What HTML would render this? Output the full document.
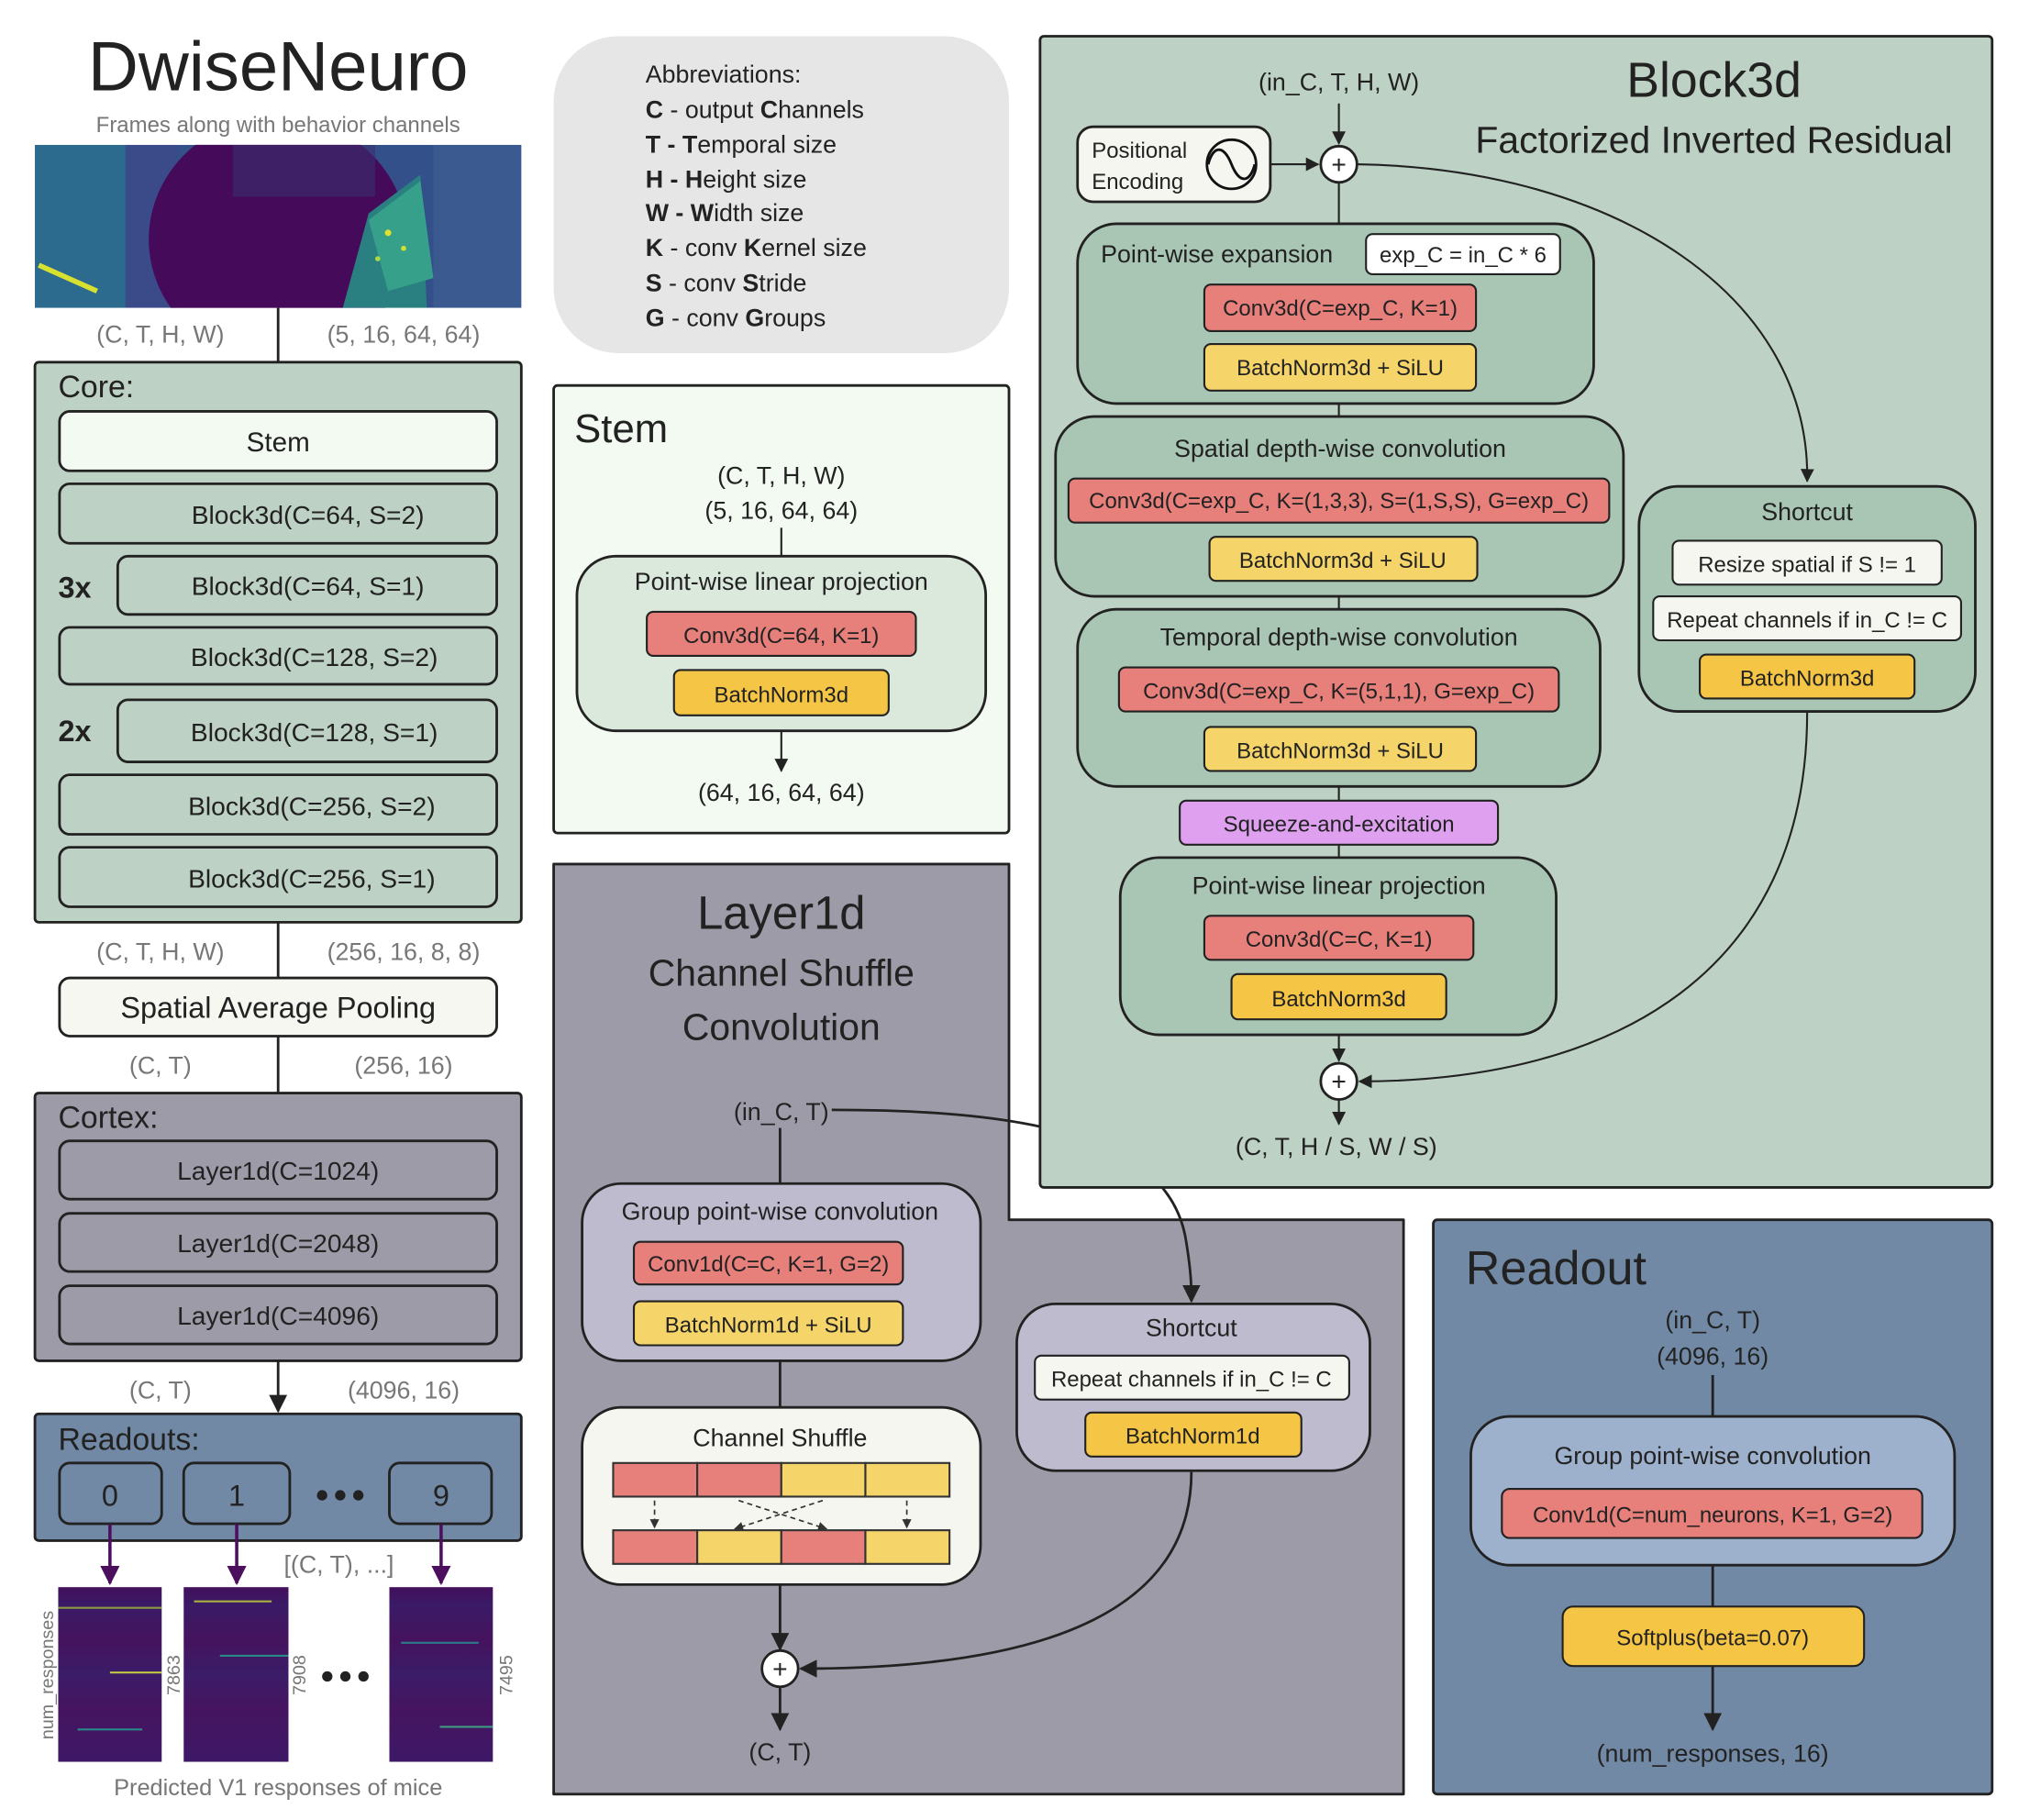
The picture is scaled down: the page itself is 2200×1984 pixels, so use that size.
<!DOCTYPE html>
<html><head><meta charset="utf-8"><style>
html,body{margin:0;padding:0;background:#fff;}
svg{display:block;}
text{font-family:"Liberation Sans",sans-serif;fill:#222;}
.c{text-anchor:middle;}
.g{fill:#777;}
</style></head><body>
<svg width="2200" height="1984" viewBox="0 0 1560 1407" preserveAspectRatio="none" xmlns="http://www.w3.org/2000/svg">
<defs>
<marker id="ar" viewBox="0 0 10 10" refX="9" refY="5" markerWidth="7" markerHeight="7" orient="auto-start-reverse"><path d="M0,0 L10,5 L0,10 z" fill="#222"/></marker>
<marker id="arp" viewBox="0 0 10 10" refX="9" refY="5" markerWidth="6" markerHeight="6" orient="auto"><path d="M0,0 L10,5 L0,10 z" fill="#4b0f5e"/></marker>
<marker id="ars" viewBox="0 0 10 10" refX="9" refY="5" markerWidth="6" markerHeight="6" orient="auto"><path d="M0,0 L10,5 L0,10 z" fill="#333"/></marker>
<linearGradient id="hm" x1="0" y1="0" x2="0" y2="1">
<stop offset="0" stop-color="#440f5c"/><stop offset="0.1" stop-color="#3a1a66"/><stop offset="0.3" stop-color="#45135e"/><stop offset="0.5" stop-color="#3b1c68"/><stop offset="0.7" stop-color="#461460"/><stop offset="1" stop-color="#3d1866"/></linearGradient>
<clipPath id="imc"><rect x="27" y="112" width="376" height="126"/></clipPath>
</defs>

<!-- Left column -->
<text x="215" y="70" class="c" font-size="54">DwiseNeuro</text>
<text x="215" y="102" class="c g" font-size="17">Frames along with behavior channels</text>
<g clip-path="url(#imc)">
<rect x="27" y="112" width="376" height="126" fill="#33508a"/>
<rect x="27" y="112" width="70" height="126" fill="#2c6b8e"/>
<rect x="97" y="112" width="40" height="126" fill="#3b4a88"/>
<ellipse cx="215" cy="185" rx="100" ry="95" fill="#450b5a"/>
<rect x="180" y="112" width="110" height="40" fill="#3a2f70" opacity="0.6"/>
<polygon points="265,238 285,165 325,135 330,238" fill="#2a8080"/>
<polygon points="285,170 325,140 335,215 300,225" fill="#37a08a"/>
<rect x="335" y="112" width="68" height="126" fill="#3a5a90"/>
<line x1="30" y1="205" x2="75" y2="225" stroke="#d8e030" stroke-width="4"/>
<circle cx="300" cy="180" r="2.5" fill="#e0e030"/>
<circle cx="312" cy="192" r="2" fill="#d0e030"/>
<circle cx="292" cy="200" r="2" fill="#b0d840"/>
</g>
<line x1="215" y1="238" x2="215" y2="280" stroke="#222" stroke-width="2"/>
<text x="124" y="265" class="c g" font-size="19">(C, T, H, W)</text>
<text x="312" y="265" class="c g" font-size="19">(5, 16, 64, 64)</text>

<rect x="27" y="280" width="376" height="433" rx="3" fill="#bdd1c4" stroke="#222" stroke-width="2"/>
<text x="45" y="307" font-size="24">Core:</text>
<rect x="46" y="318" width="338" height="46" rx="8" fill="#f3faf1" stroke="#222" stroke-width="2"/>
<text x="215" y="349" class="c" font-size="21">Stem</text>
<g fill="#bdd1c4" stroke="#222" stroke-width="2">
<rect x="46" y="374" width="338" height="46" rx="8"/>
<rect x="91" y="430" width="293" height="45" rx="8"/>
<rect x="46" y="485" width="338" height="44" rx="8"/>
<rect x="91" y="541" width="293" height="48" rx="8"/>
<rect x="46" y="599" width="338" height="46" rx="8"/>
<rect x="46" y="655" width="338" height="46" rx="8"/>
</g>
<g font-size="20">
<text x="238" y="405" class="c">Block3d(C=64, S=2)</text>
<text x="238" y="460" class="c">Block3d(C=64, S=1)</text>
<text x="243" y="515" class="c">Block3d(C=128, S=2)</text>
<text x="243" y="573" class="c">Block3d(C=128, S=1)</text>
<text x="241" y="630" class="c">Block3d(C=256, S=2)</text>
<text x="241" y="686" class="c">Block3d(C=256, S=1)</text>
</g>
<text x="45" y="462" font-size="23" font-weight="bold">3x</text>
<text x="45" y="573" font-size="23" font-weight="bold">2x</text>

<line x1="215" y1="713" x2="215" y2="756" stroke="#222" stroke-width="2"/>
<text x="124" y="742" class="c g" font-size="19">(C, T, H, W)</text>
<text x="312" y="742" class="c g" font-size="19">(256, 16, 8, 8)</text>
<rect x="46" y="756" width="338" height="45" rx="8" fill="#f5f7f0" stroke="#222" stroke-width="2"/>
<text x="215" y="787" class="c" font-size="23">Spatial Average Pooling</text>
<line x1="215" y1="801" x2="215" y2="845" stroke="#222" stroke-width="2"/>
<text x="124" y="830" class="c g" font-size="19">(C, T)</text>
<text x="312" y="830" class="c g" font-size="19">(256, 16)</text>

<rect x="27" y="845" width="376" height="207" rx="3" fill="#9e9ba8" stroke="#222" stroke-width="2"/>
<text x="45" y="872" font-size="24">Cortex:</text>
<g fill="#9e9ba8" stroke="#222" stroke-width="2">
<rect x="46" y="882" width="338" height="45" rx="8"/>
<rect x="46" y="938" width="338" height="45" rx="8"/>
<rect x="46" y="994" width="338" height="45" rx="8"/>
</g>
<g font-size="20">
<text x="215" y="912" class="c">Layer1d(C=1024)</text>
<text x="215" y="968" class="c">Layer1d(C=2048)</text>
<text x="215" y="1024" class="c">Layer1d(C=4096)</text>
</g>
<line x1="215" y1="1052" x2="215" y2="1091" stroke="#222" stroke-width="2" marker-end="url(#ar)"/>
<text x="124" y="1081" class="c g" font-size="19">(C, T)</text>
<text x="312" y="1081" class="c g" font-size="19">(4096, 16)</text>

<rect x="27" y="1093" width="376" height="98" rx="3" fill="#7189a5" stroke="#222" stroke-width="2"/>
<text x="45" y="1121" font-size="24">Readouts:</text>
<g fill="#7189a5" stroke="#222" stroke-width="2">
<rect x="46" y="1131" width="79" height="47" rx="8"/>
<rect x="142" y="1131" width="82" height="47" rx="8"/>
<rect x="301" y="1131" width="79" height="47" rx="8"/>
</g>
<text x="85" y="1164" class="c" font-size="23">0</text>
<text x="183" y="1164" class="c" font-size="23">1</text>
<text x="341" y="1164" class="c" font-size="23">9</text>
<g fill="#222"><circle cx="249" cy="1156" r="4"/><circle cx="263" cy="1156" r="4"/><circle cx="277" cy="1156" r="4"/></g>
<g stroke="#4b0f5e" stroke-width="2.5">
<line x1="85" y1="1178" x2="85" y2="1224" marker-end="url(#arp)"/>
<line x1="183" y1="1178" x2="183" y2="1224" marker-end="url(#arp)"/>
<line x1="341" y1="1178" x2="341" y2="1224" marker-end="url(#arp)"/>
</g>
<text x="262" y="1216" class="c g" font-size="19">[(C, T), ...]</text>
<rect x="45" y="1227" width="80" height="135" fill="url(#hm)"/>
<rect x="142" y="1227" width="81" height="135" fill="url(#hm)"/>
<rect x="301" y="1227" width="80" height="135" fill="url(#hm)"/>
<g stroke-width="1.5">
<line x1="45" y1="1243" x2="125" y2="1243" stroke="#8a9a40"/>
<line x1="85" y1="1293" x2="125" y2="1293" stroke="#c8d040"/>
<line x1="60" y1="1337" x2="110" y2="1337" stroke="#2a8a8a"/>
<line x1="150" y1="1238" x2="210" y2="1238" stroke="#a8b040"/>
<line x1="170" y1="1280" x2="223" y2="1280" stroke="#2a8a8a"/>
<line x1="310" y1="1270" x2="370" y2="1270" stroke="#2a7a8a"/>
<line x1="340" y1="1335" x2="381" y2="1335" stroke="#3a9a80"/>
</g>
<g fill="#222"><circle cx="253" cy="1296" r="4"/><circle cx="267" cy="1296" r="4"/><circle cx="281" cy="1296" r="4"/></g>
<text transform="translate(41,1295) rotate(-90)" class="c g" font-size="14">num_responses</text>
<text transform="translate(139,1295) rotate(-90)" class="c g" font-size="14">7863</text>
<text transform="translate(236,1295) rotate(-90)" class="c g" font-size="14">7908</text>
<text transform="translate(396,1295) rotate(-90)" class="c g" font-size="14">7495</text>
<text x="215" y="1388" class="c g" font-size="18">Predicted V1 responses of mice</text>

<!-- Abbreviations -->
<rect x="428" y="28" width="352" height="245" rx="50" fill="#e6e6e6"/>
<g font-size="19">
<text x="499" y="64">Abbreviations:</text>
<text x="499" y="91"><tspan font-weight="bold">C</tspan> - output <tspan font-weight="bold">C</tspan>hannels</text>
<text x="499" y="118"><tspan font-weight="bold">T - T</tspan>emporal size</text>
<text x="499" y="145"><tspan font-weight="bold">H - H</tspan>eight size</text>
<text x="499" y="171"><tspan font-weight="bold">W - W</tspan>idth size</text>
<text x="499" y="198"><tspan font-weight="bold">K</tspan> - conv <tspan font-weight="bold">K</tspan>ernel size</text>
<text x="499" y="225"><tspan font-weight="bold">S</tspan> - conv <tspan font-weight="bold">S</tspan>tride</text>
<text x="499" y="252"><tspan font-weight="bold">G</tspan> - conv <tspan font-weight="bold">G</tspan>roups</text>
</g>

<!-- Stem panel -->
<rect x="428" y="298" width="352" height="346" rx="3" fill="#f3faf1" stroke="#222" stroke-width="2"/>
<text x="444" y="342" font-size="31">Stem</text>
<text x="604" y="374" class="c" font-size="19">(C, T, H, W)</text>
<text x="604" y="401" class="c" font-size="19">(5, 16, 64, 64)</text>
<line x1="604" y1="408" x2="604" y2="430" stroke="#222" stroke-width="1.5"/>
<rect x="446" y="430" width="316" height="135" rx="30" fill="#dbe8dc" stroke="#222" stroke-width="2"/>
<text x="604" y="456" class="c" font-size="19">Point-wise linear projection</text>
<rect x="500" y="473" width="208" height="34" rx="5" fill="#e77f7b" stroke="#222" stroke-width="1.5"/>
<text x="604" y="497" class="c" font-size="17">Conv3d(C=64, K=1)</text>
<rect x="521" y="518" width="166" height="35" rx="5" fill="#f5c545" stroke="#222" stroke-width="1.5"/>
<text x="604" y="543" class="c" font-size="17">BatchNorm3d</text>
<line x1="604" y1="565" x2="604" y2="596" stroke="#222" stroke-width="1.5" marker-end="url(#ar)"/>
<text x="604" y="619" class="c" font-size="19">(64, 16, 64, 64)</text>

<!-- Layer1d panel -->
<path d="M428,668 H780 V943 H1085 V1387 H428 Z" fill="#9e9ba8" stroke="#222" stroke-width="2" stroke-linejoin="round"/>
<text x="604" y="718" class="c" font-size="36">Layer1d</text>
<text x="604" y="762" class="c" font-size="29">Channel Shuffle</text>
<text x="604" y="804" class="c" font-size="29">Convolution</text>
<text x="604" y="866" class="c" font-size="19">(in_C, T)</text>
<path d="M643,858 C800,858 905,880 917,960 C921,985 921,995 921,1006" fill="none" stroke="#222" stroke-width="2" marker-end="url(#ar)"/>
<line x1="603" y1="872" x2="603" y2="915" stroke="#222" stroke-width="2"/>
<rect x="450" y="915" width="308" height="137" rx="30" fill="#bfbbcf" stroke="#222" stroke-width="2"/>
<text x="603" y="943" class="c" font-size="19">Group point-wise convolution</text>
<rect x="490" y="960" width="208" height="33" rx="5" fill="#e77f7b" stroke="#222" stroke-width="1.5"/>
<text x="594" y="983" class="c" font-size="17">Conv1d(C=C, K=1, G=2)</text>
<rect x="490" y="1006" width="208" height="34" rx="5" fill="#f5d56a" stroke="#222" stroke-width="1.5"/>
<text x="594" y="1030" class="c" font-size="17">BatchNorm1d + SiLU</text>
<line x1="603" y1="1052" x2="603" y2="1088" stroke="#222" stroke-width="2"/>
<rect x="450" y="1088" width="308" height="137" rx="30" fill="#f5f6f0" stroke="#222" stroke-width="2"/>
<text x="603" y="1118" class="c" font-size="19">Channel Shuffle</text>
<g stroke="#333" stroke-width="1.5">
<rect x="474" y="1131" width="65" height="26" fill="#e77f7b"/>
<rect x="539" y="1131" width="65" height="26" fill="#e77f7b"/>
<rect x="604" y="1131" width="65" height="26" fill="#f5d56a"/>
<rect x="669" y="1131" width="65" height="26" fill="#f5d56a"/>
<rect x="474" y="1183" width="65" height="26" fill="#e77f7b"/>
<rect x="539" y="1183" width="65" height="26" fill="#f5d56a"/>
<rect x="604" y="1183" width="65" height="26" fill="#e77f7b"/>
<rect x="669" y="1183" width="65" height="26" fill="#f5d56a"/>
</g>
<g stroke="#333" stroke-width="1.2" stroke-dasharray="4,3" fill="none">
<line x1="506" y1="1160" x2="506" y2="1181" marker-end="url(#ars)"/>
<line x1="701" y1="1160" x2="701" y2="1181" marker-end="url(#ars)"/>
<line x1="571" y1="1160" x2="639" y2="1182" marker-end="url(#ars)"/>
<line x1="636" y1="1160" x2="568" y2="1182" marker-end="url(#ars)"/>
</g>
<line x1="603" y1="1225" x2="603" y2="1275" stroke="#222" stroke-width="2" marker-end="url(#ar)"/>
<circle cx="603" cy="1290" r="14" fill="#fff" stroke="#222" stroke-width="2"/>
<text x="603" y="1297" class="c" font-size="20">+</text>
<line x1="603" y1="1304" x2="603" y2="1337" stroke="#222" stroke-width="2" marker-end="url(#ar)"/>
<text x="603" y="1361" class="c" font-size="19">(C, T)</text>
<rect x="786" y="1008" width="273" height="129" rx="30" fill="#bfbbcf" stroke="#222" stroke-width="2"/>
<text x="921" y="1033" class="c" font-size="19">Shortcut</text>
<rect x="800" y="1048" width="243" height="34" rx="5" fill="#f5f6f0" stroke="#222" stroke-width="1.5"/>
<text x="921" y="1072" class="c" font-size="17">Repeat channels if in_C != C</text>
<rect x="839" y="1092" width="167" height="34" rx="5" fill="#f5c545" stroke="#222" stroke-width="1.5"/>
<text x="922" y="1116" class="c" font-size="17">BatchNorm1d</text>
<path d="M921,1138 C921,1240 820,1290 619,1290" fill="none" stroke="#222" stroke-width="2" marker-end="url(#ar)"/>

<!-- Block3d panel -->
<rect x="804" y="28" width="736" height="890" rx="3" fill="#bdd1c4" stroke="#222" stroke-width="2"/>
<text x="1325" y="75" class="c" font-size="38">Block3d</text>
<text x="1325" y="118" class="c" font-size="29">Factorized Inverted Residual</text>
<text x="1035" y="70" class="c" font-size="19">(in_C, T, H, W)</text>
<line x1="1035" y1="80" x2="1035" y2="111" stroke="#222" stroke-width="1.5" marker-end="url(#ar)"/>
<rect x="833" y="98" width="149" height="58" rx="12" fill="#f5f6f0" stroke="#222" stroke-width="2"/>
<text x="844" y="122" font-size="17">Positional</text>
<text x="844" y="146" font-size="17">Encoding</text>
<circle cx="952" cy="127" r="19" fill="none" stroke="#111" stroke-width="2"/>
<path d="M934,127 C938,112 946,112 952,127 C958,142 966,142 970,127" fill="none" stroke="#111" stroke-width="2"/>
<line x1="982" y1="127" x2="1019" y2="127" stroke="#222" stroke-width="1.5" marker-end="url(#ar)"/>
<circle cx="1035" cy="127" r="14" fill="#fff" stroke="#222" stroke-width="2"/>
<text x="1035" y="134" class="c" font-size="20">+</text>
<path d="M1049,127 C1250,130 1400,230 1397,372" fill="none" stroke="#222" stroke-width="1.5" marker-end="url(#ar)"/>
<line x1="1035" y1="141" x2="1035" y2="173" stroke="#222" stroke-width="1.5"/>

<g fill="#a9c5b4" stroke="#222" stroke-width="2">
<rect x="833" y="173" width="399" height="139" rx="30"/>
<rect x="816" y="322" width="439" height="139" rx="30"/>
<rect x="833" y="471" width="404" height="137" rx="30"/>
<rect x="866" y="663" width="337" height="137" rx="30"/>
<rect x="1267" y="376" width="260" height="174" rx="30"/>
</g>
<g stroke="#222" stroke-width="1.5">
<line x1="1035" y1="312" x2="1035" y2="322"/>
<line x1="1035" y1="461" x2="1035" y2="471"/>
<line x1="1035" y1="608" x2="1035" y2="619"/>
<line x1="1035" y1="653" x2="1035" y2="663"/>
</g>
<text x="851" y="203" font-size="19">Point-wise expansion</text>
<rect x="1056" y="181" width="150" height="31" rx="5" fill="#fff" stroke="#222" stroke-width="1.5"/>
<text x="1131" y="203" class="c" font-size="17">exp_C = in_C * 6</text>
<rect x="931" y="220" width="210" height="36" rx="5" fill="#e77f7b" stroke="#222" stroke-width="1.5"/>
<text x="1036" y="244" class="c" font-size="17">Conv3d(C=exp_C, K=1)</text>
<rect x="931" y="266" width="210" height="36" rx="5" fill="#f5d56a" stroke="#222" stroke-width="1.5"/>
<text x="1036" y="290" class="c" font-size="17">BatchNorm3d + SiLU</text>

<text x="1036" y="353" class="c" font-size="19">Spatial depth-wise convolution</text>
<rect x="826" y="370" width="418" height="34" rx="5" fill="#e77f7b" stroke="#222" stroke-width="1.5"/>
<text x="1035" y="393" class="c" font-size="17">Conv3d(C=exp_C, K=(1,3,3), S=(1,S,S), G=exp_C)</text>
<rect x="935" y="415" width="207" height="34" rx="5" fill="#f5d56a" stroke="#222" stroke-width="1.5"/>
<text x="1038" y="439" class="c" font-size="17">BatchNorm3d + SiLU</text>

<text x="1035" y="499" class="c" font-size="19">Temporal depth-wise convolution</text>
<rect x="865" y="516" width="340" height="34" rx="5" fill="#e77f7b" stroke="#222" stroke-width="1.5"/>
<text x="1035" y="540" class="c" font-size="17">Conv3d(C=exp_C, K=(5,1,1), G=exp_C)</text>
<rect x="931" y="562" width="210" height="34" rx="5" fill="#f5d56a" stroke="#222" stroke-width="1.5"/>
<text x="1036" y="586" class="c" font-size="17">BatchNorm3d + SiLU</text>

<rect x="912" y="619" width="246" height="34" rx="5" fill="#dea0ef" stroke="#222" stroke-width="1.5"/>
<text x="1035" y="643" class="c" font-size="17">Squeeze-and-excitation</text>

<text x="1035" y="691" class="c" font-size="19">Point-wise linear projection</text>
<rect x="931" y="708" width="208" height="34" rx="5" fill="#e77f7b" stroke="#222" stroke-width="1.5"/>
<text x="1035" y="732" class="c" font-size="17">Conv3d(C=C, K=1)</text>
<rect x="952" y="753" width="166" height="35" rx="5" fill="#f5c545" stroke="#222" stroke-width="1.5"/>
<text x="1035" y="778" class="c" font-size="17">BatchNorm3d</text>
<line x1="1035" y1="800" x2="1035" y2="820" stroke="#222" stroke-width="1.5" marker-end="url(#ar)"/>
<circle cx="1035" cy="836" r="14" fill="#fff" stroke="#222" stroke-width="2"/>
<text x="1035" y="843" class="c" font-size="20">+</text>
<line x1="1035" y1="850" x2="1035" y2="869" stroke="#222" stroke-width="1.5" marker-end="url(#ar)"/>
<text x="1033" y="893" class="c" font-size="19">(C, T, H / S, W / S)</text>

<text x="1397" y="402" class="c" font-size="19">Shortcut</text>
<rect x="1293" y="418" width="208" height="34" rx="5" fill="#f5f6f0" stroke="#222" stroke-width="1.5"/>
<text x="1397" y="442" class="c" font-size="17">Resize spatial if S != 1</text>
<rect x="1278" y="461" width="238" height="34" rx="5" fill="#f5f6f0" stroke="#222" stroke-width="1.5"/>
<text x="1397" y="485" class="c" font-size="17">Repeat channels if in_C != C</text>
<rect x="1314" y="506" width="166" height="34" rx="5" fill="#f5c545" stroke="#222" stroke-width="1.5"/>
<text x="1397" y="530" class="c" font-size="17">BatchNorm3d</text>
<path d="M1397,551 C1397,750 1250,836 1051,836" fill="none" stroke="#222" stroke-width="1.5" marker-end="url(#ar)"/>

<!-- Readout panel -->
<rect x="1108" y="943" width="432" height="444" rx="3" fill="#7189a5" stroke="#222" stroke-width="2"/>
<text x="1133" y="993" font-size="37">Readout</text>
<text x="1324" y="1027" class="c" font-size="19">(in_C, T)</text>
<text x="1324" y="1055" class="c" font-size="19">(4096, 16)</text>
<line x1="1324" y1="1063" x2="1324" y2="1095" stroke="#222" stroke-width="2"/>
<rect x="1137" y="1095" width="374" height="115" rx="30" fill="#9db1cc" stroke="#222" stroke-width="2"/>
<text x="1324" y="1132" class="c" font-size="19">Group point-wise convolution</text>
<rect x="1161" y="1151" width="325" height="38" rx="6" fill="#e77f7b" stroke="#222" stroke-width="1.5"/>
<text x="1324" y="1177" class="c" font-size="17">Conv1d(C=num_neurons, K=1, G=2)</text>
<line x1="1324" y1="1210" x2="1324" y2="1242" stroke="#222" stroke-width="2"/>
<rect x="1208" y="1242" width="233" height="46" rx="8" fill="#f5c545" stroke="#222" stroke-width="1.5"/>
<text x="1324" y="1272" class="c" font-size="17">Softplus(beta=0.07)</text>
<line x1="1324" y1="1288" x2="1324" y2="1337" stroke="#222" stroke-width="2" marker-end="url(#ar)"/>
<text x="1324" y="1362" class="c" font-size="19">(num_responses, 16)</text>
</svg>
</body></html>
